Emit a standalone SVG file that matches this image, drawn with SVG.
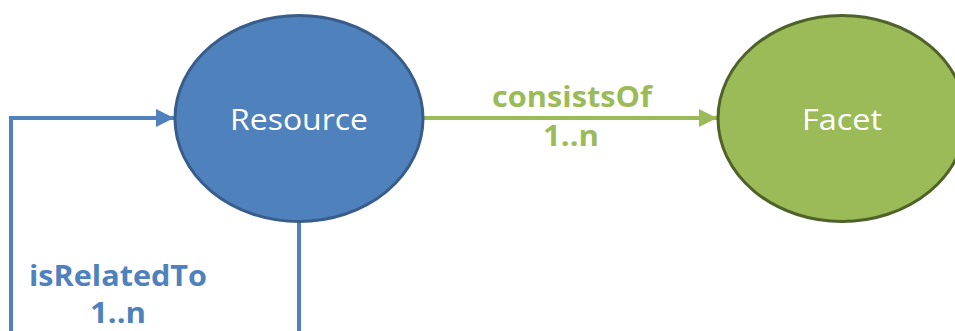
<svg xmlns="http://www.w3.org/2000/svg" width="955" height="331" viewBox="0 0 955 331">
<defs>
<style>
.node-label{font-family:"Open Sans",Lato,sans-serif;font-size:29px;fill:#ffffff;text-anchor:middle}
.edge-label{font-family:"Open Sans",Lato,sans-serif;font-size:29px;font-weight:bold;text-anchor:middle}
.blue{fill:#4F81BD}
.green{fill:#9BBB59}
</style>
<marker id="arrBlue" viewBox="0 0 10 10" refX="10" refY="5" markerWidth="4.5" markerHeight="4.5" markerUnits="strokeWidth" orient="auto"><path d="M0,0 L10,5 L0,10 z" fill="#4F81BD"/></marker>
<marker id="arrGreen" viewBox="0 0 10 10" refX="10" refY="5" markerWidth="4.5" markerHeight="4.5" markerUnits="strokeWidth" orient="auto"><path d="M0,0 L10,5 L0,10 z" fill="#9BBB59"/></marker>
</defs>
<rect width="955" height="331" fill="#ffffff"/>
<g id="connectors">
<path d="M299,222 L299,331" fill="none" stroke="#4F81BD" stroke-width="4"/>
<path d="M11,331 L11,118 L174,118" fill="none" stroke="#4F81BD" stroke-width="4" marker-end="url(#arrBlue)"/>
<path d="M424,118 L717,118" fill="none" stroke="#9BBB59" stroke-width="4" marker-end="url(#arrGreen)"/>
<text class="edge-label green" x="572" y="107" textLength="160" lengthAdjust="spacingAndGlyphs">consistsOf</text>
<text class="edge-label green" x="571" y="146" textLength="56" lengthAdjust="spacingAndGlyphs">1..n</text>
<text class="edge-label blue" x="118" y="286" textLength="178" lengthAdjust="spacingAndGlyphs">isRelatedTo</text>
<text class="edge-label blue" x="118" y="323" textLength="56" lengthAdjust="spacingAndGlyphs">1..n</text>
</g>
<g id="resource">
<ellipse cx="299" cy="118.5" rx="124" ry="103" fill="#4F81BD" stroke="#385D8A" stroke-width="3"/>
<text class="node-label" x="299" y="130" textLength="138" lengthAdjust="spacingAndGlyphs">Resource</text>
</g>
<g id="facet">
<ellipse cx="842" cy="118.5" rx="124" ry="103" fill="#9BBB59" stroke="#4F6228" stroke-width="3"/>
<text class="node-label" x="842" y="130" textLength="80" lengthAdjust="spacingAndGlyphs">Facet</text>
</g>
</svg>
